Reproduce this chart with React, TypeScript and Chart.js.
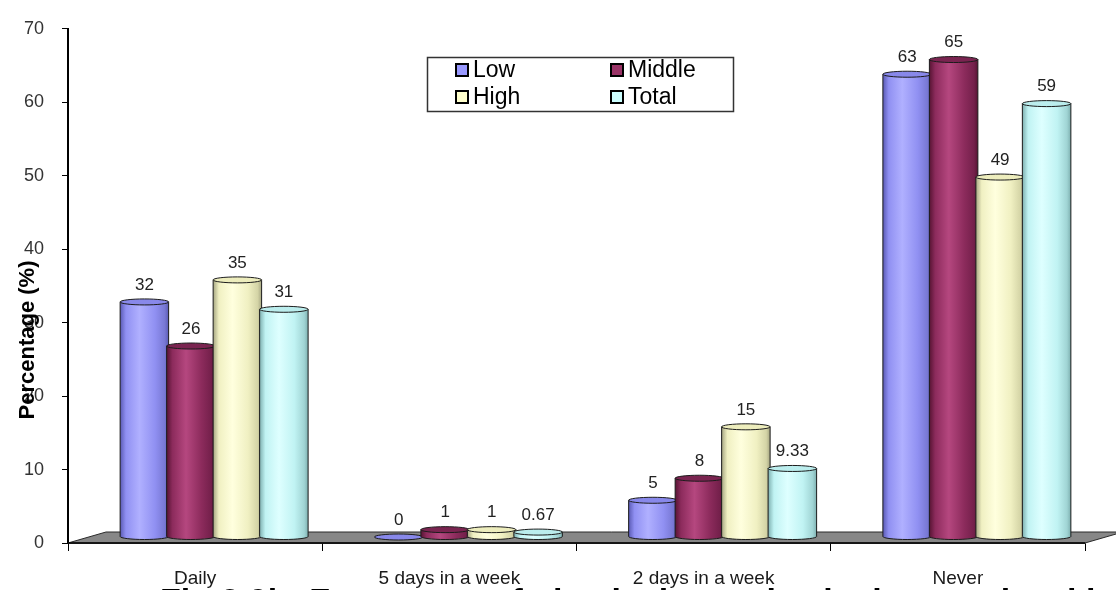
import { useEffect, useRef } from 'react';
import { Chart, registerables } from 'chart.js';

Chart.register(...registerables);

// Survey frequency shares (%) per income group
const categories = ['Daily', '5 days in a week', '2 days in a week', 'Never'];
const seriesLabels = ['Low', 'Middle', 'High', 'Total'];
const lowShare = [32, 0, 5, 63];
const middleShare = [26, 1, 8, 65];
const highShare = [35, 1, 15, 49];
const totalShare = [31, 0.67, 9.33, 59];
const yAxisMax = 70;
const yAxisStep = 10;
const yAxisTitle = 'Percentage (%)';
const figureCaption = 'Fig 3.9b: Frequency of physical exercise by income level by the';

const FONT = 'Arial, "Liberation Sans", sans-serif';

// Cylinder shading per series: flat legend colour plus gradient stops
const seriesColors = [
  { flat: '#9999FF', edge: '#5a5ab4', base: '#9090f2', light: '#b0b0ff', shade: '#7878d4', top: '#8888ea' },
  { flat: '#993366', edge: '#571433', base: '#8c2b5c', light: '#b5477f', shade: '#74204b', top: '#7a2450' },
  { flat: '#FFFFCC', edge: '#a6a682', base: '#f0f0c2', light: '#ffffde', shade: '#d4d4a6', top: '#ededbd' },
  { flat: '#CCFFFF', edge: '#7eb0b0', base: '#c0f3f3', light: '#deffff', shade: '#a0d4d4', top: '#bbeded' },
];

// 3D projection offsets: bars sit halfway into the floor's depth
const DEPTH_X = 19;
const DEPTH_Y = -6;
const FLOOR_X = 38;
const FLOOR_Y = -11;

function drawCylinder(ctx: CanvasRenderingContext2D, cx: number, top: number, bottom: number, w: number, c: any) {
  const rx = w / 2;
  const ry = 3;
  const left = cx - rx;
  const right = cx + rx;
  ctx.save();
  ctx.lineWidth = 1;
  ctx.strokeStyle = '#1c1c1c';
  if (bottom - top > 0.5) {
    const g = ctx.createLinearGradient(left, 0, right, 0);
    g.addColorStop(0, c.edge);
    g.addColorStop(0.12, c.base);
    g.addColorStop(0.4, c.light);
    g.addColorStop(0.72, c.base);
    g.addColorStop(0.92, c.shade);
    g.addColorStop(1, c.edge);
    ctx.beginPath();
    ctx.moveTo(left, top);
    ctx.lineTo(left, bottom);
    ctx.ellipse(cx, bottom, rx, ry, 0, Math.PI, 0, true);
    ctx.lineTo(right, top);
    ctx.closePath();
    ctx.fillStyle = g;
    ctx.fill();
    ctx.stroke();
  }
  ctx.beginPath();
  ctx.ellipse(cx, top, rx, ry, 0, 0, Math.PI * 2);
  ctx.fillStyle = c.top;
  ctx.fill();
  ctx.stroke();
  ctx.restore();
}

const floorPlugin = {
  id: 'floor3d',
  beforeDatasetsDraw(chart: any) {
    const { ctx, scales } = chart;
    const x = scales.x;
    const y0 = scales.y.getPixelForValue(0);
    ctx.save();
    ctx.beginPath();
    ctx.moveTo(x.left, y0);
    ctx.lineTo(x.left + FLOOR_X, y0 + FLOOR_Y);
    ctx.lineTo(x.right + FLOOR_X, y0 + FLOOR_Y);
    ctx.lineTo(x.right, y0);
    ctx.closePath();
    ctx.fillStyle = '#878787';
    ctx.fill();
    ctx.lineWidth = 1;
    ctx.strokeStyle = '#2a2a2a';
    ctx.stroke();
    ctx.beginPath();
    ctx.moveTo(x.left, y0);
    ctx.lineTo(x.right, y0);
    ctx.lineWidth = 1.5;
    ctx.strokeStyle = '#000';
    ctx.stroke();
    ctx.restore();
  },
};

const cylinderPlugin = {
  id: 'cylinders',
  afterDatasetsDraw(chart: any) {
    const { ctx } = chart;
    const tops: { x: number; y: number; text: string }[] = [];
    chart.data.datasets.forEach((ds: any, di: number) => {
      const meta = chart.getDatasetMeta(di);
      meta.data.forEach((bar: any, i: number) => {
        const p = bar.getProps(['x', 'y', 'base', 'width'], true);
        const cx = p.x + DEPTH_X;
        const top = p.y + DEPTH_Y;
        const bottom = p.base + DEPTH_Y;
        drawCylinder(ctx, cx, top, bottom, p.width + 2, seriesColors[di]);
        tops.push({ x: cx, y: top, text: String(ds.data[i]) });
      });
    });
    ctx.save();
    ctx.font = `17px ${FONT}`;
    ctx.fillStyle = '#222';
    ctx.textAlign = 'center';
    ctx.textBaseline = 'middle';
    tops.forEach((t) => ctx.fillText(t.text, t.x, t.y - 17));
    ctx.restore();
  },
};

const overlayPlugin = {
  id: 'overlay',
  afterDraw(chart: any) {
    const { ctx } = chart;
    ctx.save();

    // Legend box
    const bx = 427.5;
    const by = 57.5;
    const bw = 306;
    const bh = 54;
    ctx.fillStyle = '#fff';
    ctx.fillRect(bx, by, bw, bh);
    ctx.lineWidth = 1.5;
    ctx.strokeStyle = '#333';
    ctx.strokeRect(bx, by, bw, bh);
    const cols = [456, 611];
    const rows = [70, 97];
    ctx.font = `23px ${FONT}`;
    ctx.textBaseline = 'middle';
    ctx.textAlign = 'left';
    chart.data.datasets.forEach((ds: any, di: number) => {
      const sx = cols[di % 2];
      const sy = rows[Math.floor(di / 2)];
      ctx.fillStyle = seriesColors[di].flat;
      ctx.fillRect(sx, sy - 6, 12, 12);
      ctx.lineWidth = 2;
      ctx.strokeStyle = '#000';
      ctx.strokeRect(sx, sy - 6, 12, 12);
      ctx.fillStyle = '#000';
      ctx.fillText(ds.label, sx + 17, sy + 1);
    });

    // Y axis title, drawn over the tick labels
    ctx.translate(28, 340);
    ctx.rotate(-Math.PI / 2);
    ctx.font = `bold 22px ${FONT}`;
    ctx.fillStyle = '#000';
    ctx.textAlign = 'center';
    ctx.textBaseline = 'middle';
    ctx.fillText(yAxisTitle, 0, 0);
    ctx.setTransform(1, 0, 0, 1, 0, 0);

    // Figure caption running off the bottom edge
    ctx.font = `bold 34px ${FONT}`;
    ctx.textAlign = 'left';
    ctx.textBaseline = 'alphabetic';
    ctx.fillText(figureCaption, 160, 612);
    ctx.restore();
  },
};

export default function App() {
  const canvasRef = useRef<HTMLCanvasElement | null>(null);

  useEffect(() => {
    document.body.style.margin = '0';
    const canvas = canvasRef.current;
    if (!canvas) return;
    const datasets = [lowShare, middleShare, highShare, totalShare].map((values, i) => ({
      label: seriesLabels[i],
      data: values,
      backgroundColor: 'rgba(0,0,0,0)',
      borderWidth: 0,
      categoryPercentage: 0.7315,
      barPercentage: 1,
    }));
    const chart = new Chart(canvas, {
      type: 'bar',
      data: { labels: categories, datasets },
      options: {
        animation: false,
        responsive: false,
        maintainAspectRatio: false,
        layout: { padding: { top: 24, right: 31, left: 0, bottom: 0 } },
        plugins: {
          legend: { display: false },
          tooltip: { enabled: false },
          title: { display: false },
        },
        scales: {
          x: {
            offset: true,
            afterFit: (scale: any) => {
              scale.height = 47;
            },
            grid: {
              offset: true,
              drawOnChartArea: false,
              drawTicks: true,
              tickLength: 8,
              color: '#000',
              lineWidth: 1,
            },
            border: { display: true, color: '#000', width: 1.5 },
            ticks: {
              color: '#1a1a1a',
              padding: 16,
              maxRotation: 0,
              autoSkip: false,
              font: { family: FONT, size: 19 },
            },
          },
          y: {
            min: 0,
            max: yAxisMax,
            afterFit: (scale: any) => {
              scale.width = 68;
            },
            grid: {
              drawOnChartArea: false,
              drawTicks: true,
              tickLength: 6,
              color: '#000',
              lineWidth: 1,
            },
            border: { display: true, color: '#000', width: 2 },
            ticks: {
              stepSize: yAxisStep,
              color: '#333',
              padding: 18,
              font: { family: FONT, size: 18 },
            },
          },
        },
      },
      plugins: [floorPlugin, cylinderPlugin, overlayPlugin],
    } as any);
    return () => chart.destroy();
  }, []);

  return (
    <div style={{ width: 1116, height: 590, background: '#fff' }}>
      <canvas ref={canvasRef} width={1116} height={590} style={{ display: 'block' }} />
    </div>
  );
}
